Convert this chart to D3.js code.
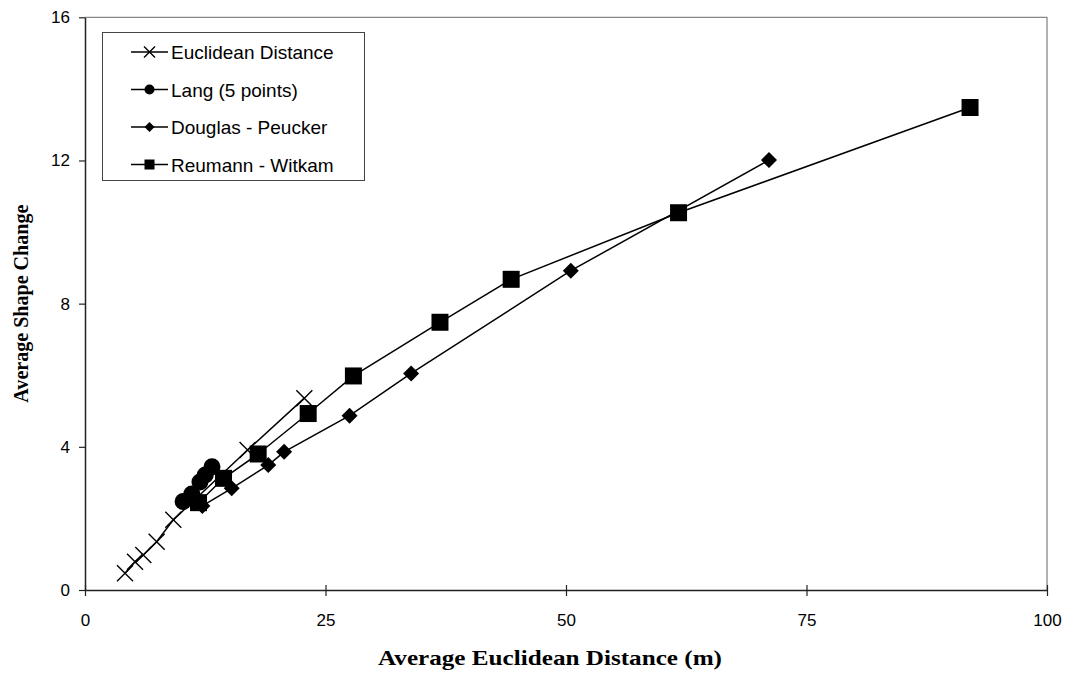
<!DOCTYPE html>
<html><head><meta charset="utf-8">
<script src="https://cdn.jsdelivr.net/npm/d3@7"></script>
<style>body{margin:0;background:#fff}</style>
</head><body>
<svg id="c" width="1071" height="674"></svg>
<script>
// Data
const euclidX = [4.16, 5.2, 6.06, 7.45, 9.18, 16.9, 22.8];
const euclidY = [0.47, 0.79, 0.98, 1.35, 1.96, 3.91, 5.36];
const langX = [10.2, 11.1, 11.95, 12.5, 13.2];
const langY = [2.47, 2.68, 3.02, 3.21, 3.44];
const douglasX = [12.2, 15.25, 19.05, 20.7, 27.5, 33.9, 50.5, 71.1];
const douglasY = [2.35, 2.84, 3.49, 3.86, 4.87, 6.05, 8.92, 12.01];
const reumannX = [11.8, 14.4, 18.0, 23.2, 27.9, 36.9, 44.3, 61.7, 92.0];
const reumannY = [2.44, 3.12, 3.80, 4.93, 5.98, 7.48, 8.68, 10.54, 13.48];
const xTicks = [0, 25, 50, 75, 100];
const yTicks = [0, 4, 8, 12, 16];
const seriesNames = ["Euclidean Distance", "Lang (5 points)", "Douglas - Peucker", "Reumann - Witkam"];
const seriesShapes = ["cross", "circle", "diamond", "square"];

const series = [
  {name: seriesNames[0], shape: seriesShapes[0], xs: euclidX, ys: euclidY},
  {name: seriesNames[1], shape: seriesShapes[1], xs: langX, ys: langY},
  {name: seriesNames[2], shape: seriesShapes[2], xs: douglasX, ys: douglasY},
  {name: seriesNames[3], shape: seriesShapes[3], xs: reumannX, ys: reumannY}
];

const svg = d3.select("#c");
const L = 85, R = 1047, T = 17.3, B = 590;
const x = d3.scaleLinear().domain([0, 100]).range([L, R]);
const y = d3.scaleLinear().domain([0, 16]).range([B, T]);

// plot border (top/right grey)
svg.append("path").attr("d", `M${L},${T}H${R}V${B}`).attr("fill", "none")
  .attr("stroke", "#888").attr("stroke-width", 1.3);

const xAxis = svg.append("g").attr("transform", `translate(0,${B})`)
  .call(d3.axisBottom(x).tickValues(xTicks).tickSize(6).tickSizeOuter(0).tickPadding(18));
const yAxis = svg.append("g").attr("transform", `translate(${L},0)`)
  .call(d3.axisLeft(y).tickValues(yTicks).tickSize(6).tickSizeOuter(0).tickPadding(9));
[xAxis, yAxis].forEach(g => {
  g.select(".domain").attr("stroke", "#222").attr("stroke-width", 1.5);
  g.selectAll(".tick line").attr("stroke", "#222").attr("stroke-width", 1.2);
  g.selectAll("text").attr("font-family", "Liberation Sans, Arial, sans-serif")
    .attr("font-size", 17).attr("fill", "#000");
});
xAxis.selectAll(".tick line").attr("y1", -5);

// titles
svg.append("text").attr("x", 550).attr("y", 665).attr("text-anchor", "middle")
  .attr("font-family", "Liberation Serif, Times New Roman, serif").attr("font-weight", "bold")
  .attr("font-size", 22).attr("textLength", 344).attr("lengthAdjust", "spacingAndGlyphs")
  .text("Average Euclidean Distance (m)");
svg.append("text").attr("transform", `translate(28,${(T + B) / 2}) rotate(-90)`)
  .attr("text-anchor", "middle")
  .attr("font-family", "Liberation Serif, Times New Roman, serif").attr("font-weight", "bold")
  .attr("font-size", 22).attr("textLength", 198).attr("lengthAdjust", "spacingAndGlyphs")
  .text("Average Shape Change");

function marker(g, shape, size) {
  const h = size / 2;
  if (shape === "cross") {
    g.append("path").attr("d", `M${-h},${-h}L${h},${h}M${-h},${h}L${h},${-h}`)
      .attr("stroke", "#000").attr("stroke-width", 1.4).attr("fill", "none");
  } else if (shape === "circle") {
    g.append("circle").attr("r", h).attr("fill", "#000");
  } else if (shape === "diamond") {
    g.append("path").attr("d", `M0,${-h}L${h},0L0,${h}L${-h},0Z`).attr("fill", "#000");
  } else {
    g.append("rect").attr("x", -h).attr("y", -h).attr("width", size).attr("height", size).attr("fill", "#000");
  }
}

const line = d3.line().x(d => x(d[0])).y(d => y(d[1]));
const sizes = {cross: 16, circle: 17, diamond: 16, square: 17};
series.forEach(s => {
  const pts = s.xs.map((v, i) => [v, s.ys[i]]);
  svg.append("path").attr("d", line(pts)).attr("fill", "none")
    .attr("stroke", "#000").attr("stroke-width", 1.5);
  pts.forEach(p => {
    const g = svg.append("g").attr("transform", `translate(${x(p[0])},${y(p[1])})`);
    marker(g, s.shape, sizes[s.shape]);
  });
});

// legend
const lg = svg.append("g");
lg.append("rect").attr("x", 102.5).attr("y", 32.5).attr("width", 262).attr("height", 148)
  .attr("fill", "#fff").attr("stroke", "#444").attr("stroke-width", 1);
series.forEach((s, i) => {
  const cy = 52 + i * 37.5;
  lg.append("line").attr("x1", 131).attr("x2", 168).attr("y1", cy).attr("y2", cy)
    .attr("stroke", "#000").attr("stroke-width", 1.5);
  const g = lg.append("g").attr("transform", `translate(149.5,${cy})`);
  marker(g, s.shape, s.shape === "cross" ? 11 : 10);
  lg.append("text").attr("x", 171).attr("y", cy + 7)
    .attr("font-family", "Liberation Sans, Arial, sans-serif").attr("font-size", 19).text(s.name);
});
</script>
</body></html>
